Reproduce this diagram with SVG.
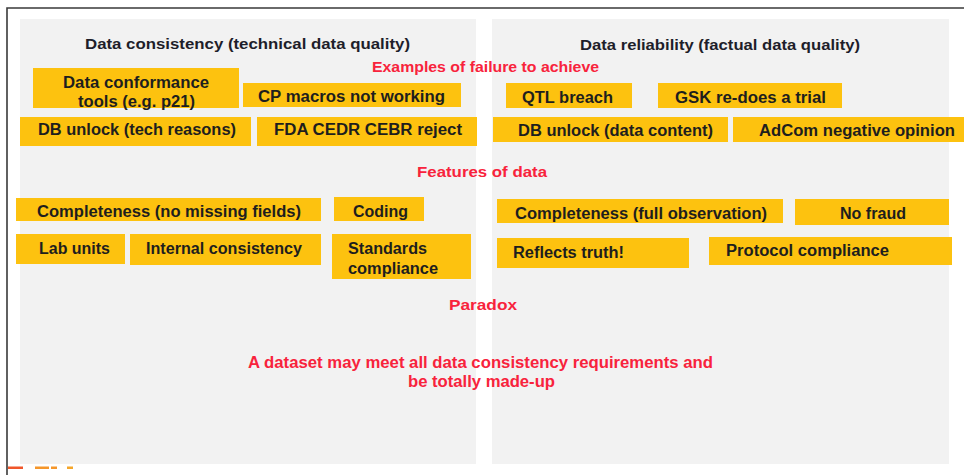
<svg xmlns="http://www.w3.org/2000/svg" width="964" height="475" viewBox="0 0 964 475">
<style>
.bg{fill:#ffffff}
.panel{fill:#f2f2f2}
.box{fill:#fdc20f}
text{font-family:"Liberation Sans",Arial,sans-serif;font-weight:bold}
.t{font-size:16px;fill:#1e1e1e}
.h{font-size:15.5px;fill:#1e1e2a}
.r{font-size:15px;fill:#f8233c}
.p{font-size:16px;fill:#f8233c}
.frame{stroke:#3a3a3a;stroke-width:1.6;fill:none}
</style>
<rect class="bg" x="0" y="0" width="964" height="475"/>
<path class="frame" d="M7,475 V8 H964"/>
<rect class="panel" x="20" y="19" width="456" height="445"/>
<rect class="panel" x="492" y="19" width="457" height="445"/>
<g id="logo-fragment">
<rect x="8" y="466.5" width="15" height="2.5" fill="#f0562a"/>
<rect x="35" y="466.5" width="14" height="2.5" fill="#f5962a"/>
<rect x="51" y="466.5" width="6" height="2.5" fill="#f5962a"/>
<rect x="67" y="466.5" width="6" height="2.5" fill="#f5a62a"/>
</g>
<g id="connectors"/>
<g id="title-left"><text class="h" x="85" y="49" textLength="325" lengthAdjust="spacingAndGlyphs">Data consistency  (technical data quality)</text></g>
<g id="title-right"><text class="h" x="580" y="50" textLength="280" lengthAdjust="spacingAndGlyphs">Data reliability (factual data quality)</text></g>
<g id="label-examples"><text class="r" x="372" y="72" textLength="227" lengthAdjust="spacingAndGlyphs">Examples of failure to achieve</text></g>
<g id="n-conformance"><rect class="box" x="33" y="68" width="206" height="40"/><text class="t" x="63" y="88" textLength="146" lengthAdjust="spacingAndGlyphs">Data conformance</text><text class="t" x="78" y="107" textLength="117" lengthAdjust="spacingAndGlyphs">tools (e.g. p21)</text></g>
<g id="n-cpmacros"><rect class="box" x="243" y="83" width="218" height="24"/><text class="t" x="258" y="102" textLength="187" lengthAdjust="spacingAndGlyphs">CP macros not working</text></g>
<g id="n-dbunlock-tech"><rect class="box" x="20" y="117" width="231" height="29"/><text class="t" x="38" y="135" textLength="198" lengthAdjust="spacingAndGlyphs">DB unlock (tech reasons)</text></g>
<g id="n-fda"><rect class="box" x="257" y="117" width="220" height="29"/><text class="t" x="274" y="135" textLength="188" lengthAdjust="spacingAndGlyphs">FDA CEDR CEBR  reject</text></g>
<g id="n-qtl"><rect class="box" x="506" y="83" width="126" height="25"/><text class="t" x="522" y="103" textLength="91" lengthAdjust="spacingAndGlyphs">QTL breach</text></g>
<g id="n-gsk"><rect class="box" x="658" y="83" width="184" height="25"/><text class="t" x="675" y="103" textLength="151" lengthAdjust="spacingAndGlyphs">GSK re-does a trial</text></g>
<g id="n-dbunlock-data"><rect class="box" x="493" y="117" width="235" height="25"/><text class="t" x="518" y="136" textLength="195" lengthAdjust="spacingAndGlyphs">DB unlock (data content)</text></g>
<g id="n-adcom"><rect class="box" x="733" y="117" width="231" height="25"/><text class="t" x="759" y="136" textLength="196" lengthAdjust="spacingAndGlyphs">AdCom  negative opinion</text></g>
<g id="label-features"><text class="r" x="417" y="177" textLength="130" lengthAdjust="spacingAndGlyphs">Features of data</text></g>
<g id="n-completeness-left"><rect class="box" x="16" y="198" width="305" height="23"/><text class="t" x="37" y="217" textLength="264" lengthAdjust="spacingAndGlyphs">Completeness  (no missing  fields)</text></g>
<g id="n-coding"><rect class="box" x="334" y="197" width="90" height="24"/><text class="t" x="353" y="217" textLength="55" lengthAdjust="spacingAndGlyphs">Coding</text></g>
<g id="n-labunits"><rect class="box" x="16" y="234" width="109" height="30"/><text class="t" x="39" y="254" textLength="71" lengthAdjust="spacingAndGlyphs">Lab units</text></g>
<g id="n-internal"><rect class="box" x="130" y="234" width="191" height="31"/><text class="t" x="146" y="254" textLength="156" lengthAdjust="spacingAndGlyphs">Internal consistency</text></g>
<g id="n-standards"><rect class="box" x="332" y="234" width="139" height="45"/><text class="t" x="348" y="254" textLength="79" lengthAdjust="spacingAndGlyphs">Standards</text><text class="t" x="348" y="274" textLength="90" lengthAdjust="spacingAndGlyphs">compliance</text></g>
<g id="n-completeness-right"><rect class="box" x="497" y="199" width="286" height="24"/><text class="t" x="515" y="219" textLength="252" lengthAdjust="spacingAndGlyphs">Completeness (full observation)</text></g>
<g id="n-nofraud"><rect class="box" x="795" y="199" width="154" height="26"/><text class="t" x="840" y="219" textLength="66" lengthAdjust="spacingAndGlyphs">No fraud</text></g>
<g id="n-reflects"><rect class="box" x="497" y="238" width="192" height="30"/><text class="t" x="513" y="258" textLength="111" lengthAdjust="spacingAndGlyphs">Reflects truth!</text></g>
<g id="n-protocol"><rect class="box" x="709" y="237" width="243" height="28"/><text class="t" x="726" y="256" textLength="163" lengthAdjust="spacingAndGlyphs">Protocol compliance</text></g>
<g id="label-paradox"><text class="r" x="449" y="310" textLength="68" lengthAdjust="spacingAndGlyphs">Paradox</text></g>
<g id="paradox-text"><text class="p" x="248" y="368" textLength="465" lengthAdjust="spacingAndGlyphs">A dataset may meet all data consistency  requirements and</text><text class="p" x="408" y="387" textLength="147" lengthAdjust="spacingAndGlyphs">be totally made-up</text></g>
</svg>
